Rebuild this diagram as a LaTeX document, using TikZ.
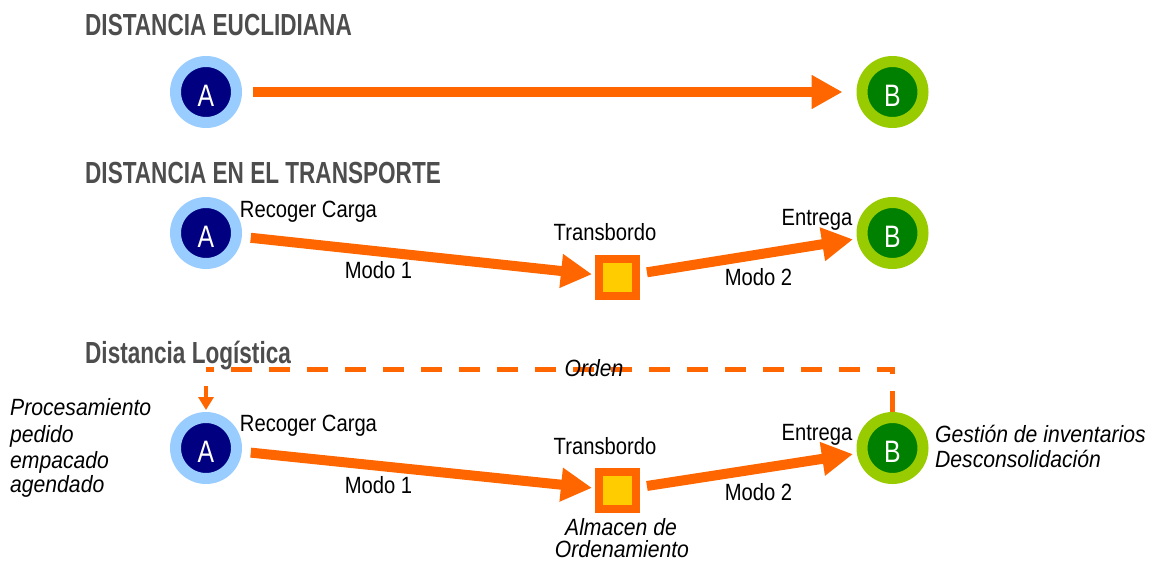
\documentclass[tikz,border=0pt]{standalone}
\usepackage{fontspec}
\usetikzlibrary{arrows.meta}
\newfontfamily\bodyf{Liberation Sans}[FakeStretch=0.86]
\newfontfamily\itf{Liberation Sans}[FakeStretch=0.9]
\newfontfamily\headf{Liberation Sans}[FakeStretch=0.74]
\newfontfamily\letf{Liberation Sans}[FakeStretch=0.8]
\definecolor{orng}{HTML}{FF6600}
\definecolor{ylw}{HTML}{FFCC00}
\definecolor{lblue}{HTML}{99CCFF}
\definecolor{navy}{HTML}{000080}
\definecolor{lgreen}{HTML}{99CC00}
\definecolor{dgreen}{HTML}{008000}
\definecolor{headgray}{HTML}{4D4D4D}
\tikzset{
  heading/.style={anchor=base west, inner sep=0pt, text=headgray, font=\headf\bfseries\fontsize{30.5}{34}\selectfont},
  lbl/.style={anchor=base, inner sep=0pt, font=\bodyf\fontsize{23.5}{27}\selectfont},
  ilbl/.style={lbl, font=\itf\itshape\fontsize{23.5}{27}\selectfont},
  ptA/.style={circle, minimum size=61pt, inner sep=0pt, line width=11pt, draw=lblue, fill=navy, text=white, font=\letf\fontsize{31}{33}\selectfont, text height=29pt, text depth=0pt},
  ptB/.style={ptA, draw=lgreen, fill=dgreen},
  hub/.style={rectangle, minimum size=37pt, inner sep=0pt, line width=8pt, draw=orng, fill=ylw},
  bigarrow/.style={draw=orng, line width=10pt, -{Triangle[length=31pt,width=32pt]}},
  dashline/.style={draw=orng, line width=5pt, dash pattern=on 21pt off 17pt},
  smallarrow/.style={draw=orng, line width=4.5pt, -{Triangle[length=13pt,width=15pt]}}
}
\begin{document}
\begin{tikzpicture}[x=1pt,y=-1pt]
\useasboundingbox (0,0) rectangle (1154,560);
% headings
\node[heading] (h1) at (85,35) {DISTANCIA EUCLIDIANA};
\node[heading] (h2) at (85,183) {DISTANCIA EN EL TRANSPORTE};
\node[heading] (h3) at (85,363) {Distancia Logística};
% row 1
\node[ptA] (A1) at (206,92) {A};
\node[ptB] (B1) at (892.5,92) {B};
\draw[bigarrow, shorten <=11pt, shorten >=14pt] (A1) -- (B1);
% row 2
\node[ptA] (A2) at (206,233) {A};
\node[hub] (S2) at (617.5,277) {};
\node[ptB] (B2) at (892.5,233) {B};
\draw[bigarrow, shorten <=9pt, shorten >=3pt] (A2) -- (S2);
\draw[bigarrow, shorten <=7pt, shorten >=4pt] (S2) -- (B2);
\node[lbl] (rc2) at (308.5,217) {Recoger Carga};
\node[lbl] (m12) at (378.5,278) {Modo 1};
\node[lbl] (tb2) at (605,240) {Transbordo};
\node[lbl] (en2) at (817,225) {Entrega};
\node[lbl] (m22) at (758.5,285) {Modo 2};
% row 3
\node[ptA] (A3) at (206,448) {A};
\node[hub] (S3) at (617.5,490.5) {};
\node[ptB] (B3) at (892.5,448) {B};
\draw[bigarrow, shorten <=9pt, shorten >=3pt] (A3) -- (S3);
\draw[bigarrow, shorten <=7pt, shorten >=4pt] (S3) -- (B3);
\node[lbl] (rc3) at (308.5,431) {Recoger Carga};
\node[lbl] (m13) at (378.5,493) {Modo 1};
\node[lbl] (tb3) at (605,454) {Transbordo};
\node[lbl] (en3) at (817,440) {Entrega};
\node[lbl] (m23) at (758.5,500) {Modo 2};
% order loop
\coordinate (cL) at (206,369);
\coordinate (aS) at (206,386);
\draw[dashline] (B3.north) |- (cL);
\draw[smallarrow, shorten >=2pt] (aS) -- (A3.north);
\node[ilbl] (ord) at (594,376) {Orden};
% side texts
\node[ilbl, anchor=base west] (p1) at (10,415) {Procesamiento};
\node[ilbl, anchor=base west] (p2) at (10,442) {pedido};
\node[ilbl, anchor=base west] (p3) at (10,468) {empacado};
\node[ilbl, anchor=base west] (p4) at (10,492) {agendado};
\node[ilbl, anchor=base west] (g1) at (935,442) {Gestión de inventarios};
\node[ilbl, anchor=base west] (g2) at (935,467) {Desconsolidación};
\node[ilbl] (al1) at (621,535) {Almacen de};
\node[ilbl] (al2) at (622,557) {Ordenamiento};
\end{tikzpicture}
\end{document}
